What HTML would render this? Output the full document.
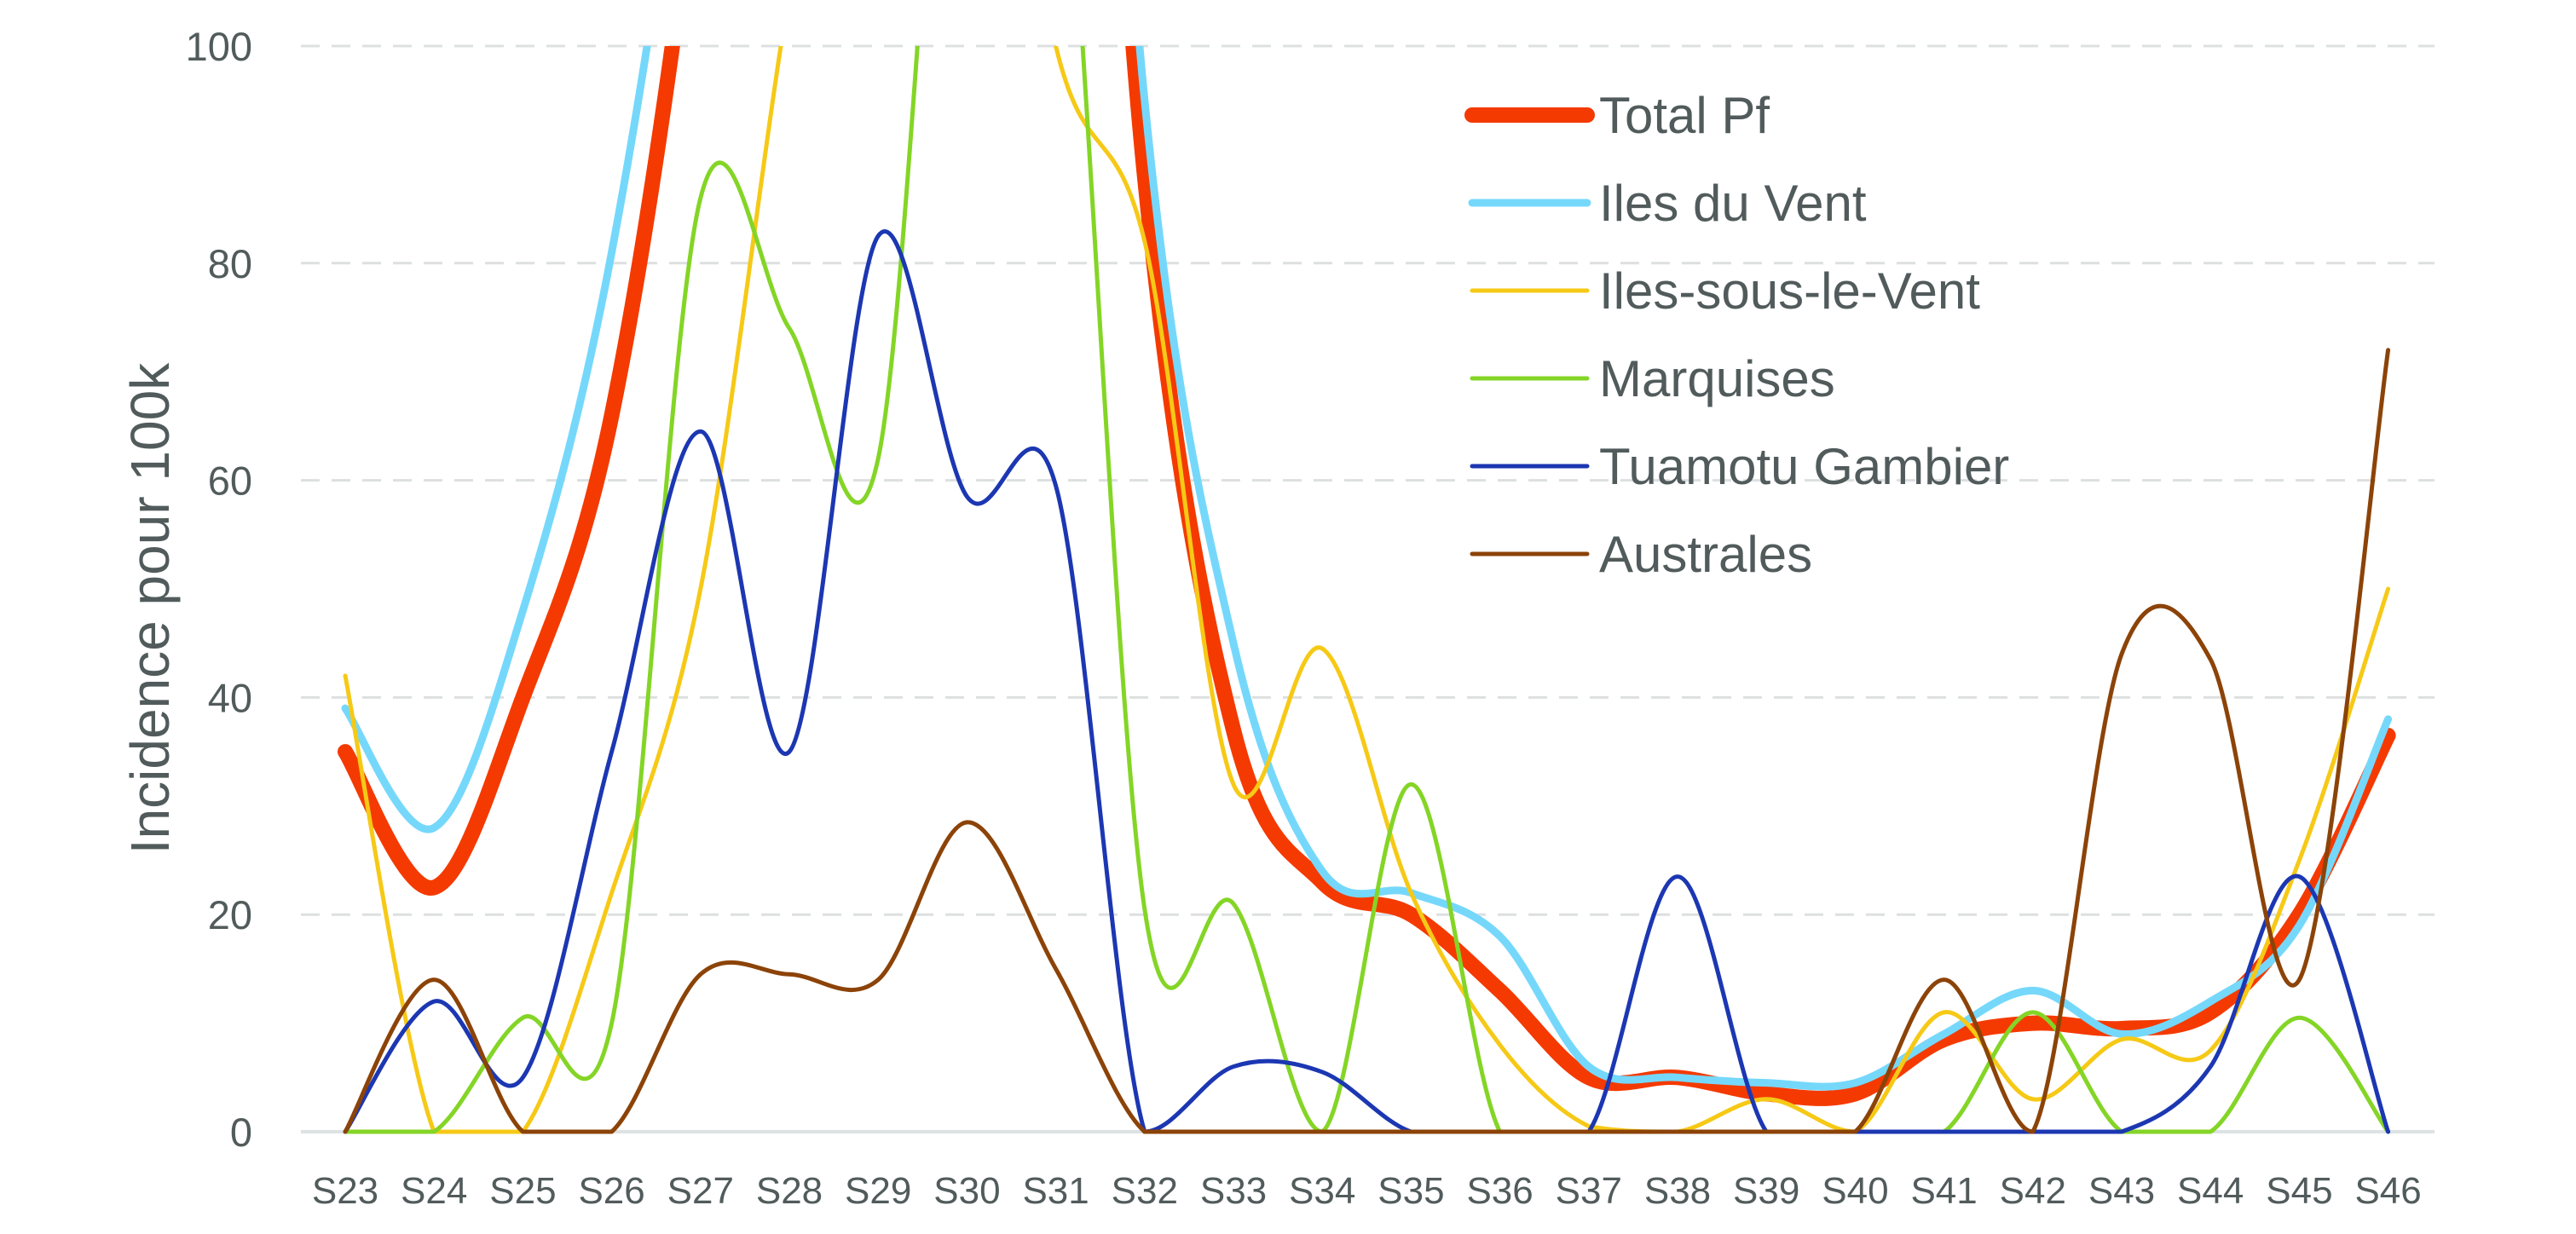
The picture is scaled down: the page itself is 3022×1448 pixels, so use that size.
<!DOCTYPE html>
<html><head><meta charset="utf-8"><style>
html,body{margin:0;padding:0;background:#fff;}
svg{display:block;}
text{font-family:"Liberation Sans",sans-serif;fill:#525b5b;}
</style></head><body>
<svg id="c" width="3022" height="1448" viewBox="0 0 3022 1448" xmlns="http://www.w3.org/2000/svg">
<defs><clipPath id="clip"><rect x="340" y="54" width="2540" height="1394"/></clipPath></defs>
<g id="grid"></g>
<g id="series" clip-path="url(#clip)"></g>
<g id="labels"></g>
<text transform="translate(198,714) rotate(-90)" text-anchor="middle" font-size="64">Incidence pour 100k</text>
<g id="legend"></g>
</svg>
<script>
var NS="http://www.w3.org/2000/svg";
function el(t,a,p,txt){var e=document.createElementNS(NS,t);for(var k in a)e.setAttribute(k,a[k]);if(txt!==undefined)e.textContent=txt;p.appendChild(e);return e;}
var x0=405,dx=104.2,y0=1328,yk=12.74;
function X(i){return x0+i*dx;} function Y(v){return y0-v*yk;}
var g=document.getElementById('grid'),lb=document.getElementById('labels');
for(var v=20;v<=100;v+=20){el('line',{x1:353,x2:2856,y1:Y(v),y2:Y(v),stroke:'#dde0e0','stroke-width':3,'stroke-dasharray':'22 14'},g);}
el('line',{x1:353,x2:2856,y1:y0,y2:y0,stroke:'#dde2e2','stroke-width':4},g);
for(var v=0;v<=100;v+=20){el('text',{x:296,y:Y(v)+17,'text-anchor':'end','font-size':47},lb,String(v));}
for(var i=0;i<24;i++){el('text',{x:X(i),y:1412,'text-anchor':'middle','font-size':44},lb,'S'+(23+i));}
var S=[
['Total Pf','#f43a00',18,[35,22.5,40,66,120,200,250,250,200,88,37,23,20,13,5,5,3.5,3.5,8.5,10,9.5,11,20,36.5]],
['Iles du Vent','#75d8fb',9,[39,28,48,81,135,210,260,260,210,95,45,24,22,18,6,5,4.5,4.5,9,13,9,12,19,38]],
['Iles-sous-le-Vent','#f6c916',5,[42,0,0,22,50,105,150,150,100,82,32,44.5,22,8,0.5,0,3,0,11,3,8.5,7.5,25,50]],
['Marquises','#84d526',5,[0,0,10.5,10,86,74,62,150,130,20.5,21,0,32,0,0,0,0,0,0,11,0,0,10.5,0]],
['Tuamotu Gambier','#1c37b2',5,[0,12,5,35,64.5,35,82.5,58.5,59.5,0,6,5.5,0,0,0,23.5,0,0,0,0,0,6,23.5,0]],
['Australes','#8c4308',5,[0,14,0,0,14.5,14.5,14,28.5,15,0,0,0,0,0,0,0,0,0,14,0,44,43.5,14,72]]
];
var sg=document.getElementById('series'),lg=document.getElementById('legend');
S.forEach(function(s,si){
 var d=s[3],p=d.map(function(v,i){return [X(i),Y(v)];});
 var path='M'+p[0][0]+','+p[0][1];
 for(var i=0;i<p.length-1;i++){
  var a=p[Math.max(i-1,0)],b=p[i],c=p[i+1],e=p[Math.min(i+2,p.length-1)],t=1/6;
  var c1y=b[1]+(c[1]-a[1])*t,c2y=c[1]-(e[1]-b[1])*t;
  if(d[i]==0||d[i+1]==0){c1y=Math.min(c1y,y0);c2y=Math.min(c2y,y0);}
  path+=' C'+(b[0]+(c[0]-a[0])*t)+','+c1y+' '+(c[0]-(e[0]-b[0])*t)+','+c2y+' '+c[0]+','+c[1];
 }
 el('path',{d:path,fill:'none',stroke:s[1],'stroke-width':s[2],'stroke-linejoin':'round','stroke-linecap':'round'},sg);
 var ly=135+si*103;
 el('line',{x1:1727,x2:1862,y1:ly,y2:ly,stroke:s[1],'stroke-width':s[2],'stroke-linecap':'round'},lg);
 el('text',{x:1876,y:ly+21,'font-size':60},lg,s[0]);
});
</script>
</body></html>
